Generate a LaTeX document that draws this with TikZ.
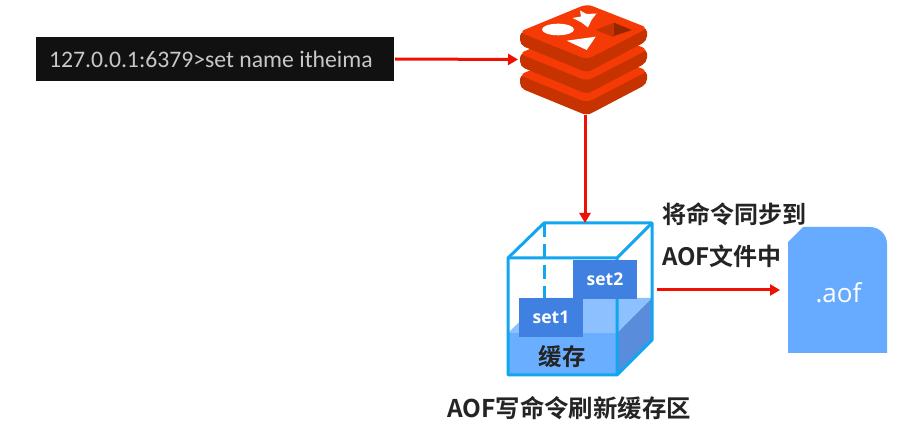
\documentclass[tikz,border=0pt]{standalone}
\usepackage{fontspec}
\setmainfont{Open Sans}
\newfontfamily\cjkbold[Scale=1]{Noto Sans CJK SC Bold}
\newfontfamily\termfont{Carlito}
\usetikzlibrary{arrows.meta}
\definecolor{rtop}{HTML}{F53A05}
\definecolor{rside}{HTML}{C63200}
\definecolor{rdark}{HTML}{962600}
\definecolor{cubeline}{HTML}{12A5F0}
\definecolor{setblue}{HTML}{4080E0}
\definecolor{water}{HTML}{6AAFFF}
\definecolor{watertop}{HTML}{8CC0FF}
\definecolor{waterside}{HTML}{5A8CDC}
\definecolor{aofblue}{HTML}{66ABFF}
\definecolor{ink}{HTML}{242424}
\tikzset{
  link/.style={draw={rgb,255:red,238;green,16;blue,0},line width=3pt,-{Triangle[length=10pt,width=11pt]}},
  box/.style={inner sep=0pt,outer sep=0pt},
  label/.style={inner sep=0pt,outer sep=0pt,anchor=west,text=ink,font=\cjkbold\fontsize{24}{28}\selectfont},
  setbox/.style={box,fill=setblue,text=white,font=\bfseries\fontsize{17.5}{20}\selectfont,minimum width=64pt,minimum height=38.5pt},
}
\newcommand{\redislayer}[1]{%
  \fill[rside,rounded corners=5pt] (520,31+#1) -- (520,45+#1) -- (587,72.5+#1) -- (647,41+#1) -- (647,27+#1) -- (587,50+#1) -- cycle;
  \fill[rtop,rounded corners=6pt] (519,32+#1) -- (587,4+#1) -- (648,28+#1) -- (587,59.5+#1) -- cycle;
}
\begin{document}
\begin{tikzpicture}[x=1pt,y=-1pt]
\useasboundingbox (0,0) rectangle (902,427);
\fill[white] (0,0) rectangle (902,427);
% terminal
\node[box,fill={rgb,255:red,17;green,17;blue,17},minimum width=358pt,minimum height=44pt] (term) at (215,59) {};
\node[box,anchor=west,text={rgb,255:red,200;green,200;blue,200},font=\termfont\fontsize{23.7}{27}\selectfont] (termtext) at (49,59) {127.0.0.1:6379>set name itheima};
% redis logo
\node[box,minimum width=130pt,minimum height=111pt] (redis) at (585,59.5) {};
\redislayer{43}
\redislayer{21.5}
\redislayer{0}
\fill[white] (558,29.5) ellipse (16 and 5.8);
\fill[white] (572.5,18) -- (581,16.5) -- (580,10.5) -- (586.5,14) -- (596.5,13.5) -- (591.5,20) -- (588,27.5) -- (581.5,22.5) -- cycle;
\fill[white] (566.7,40.7) -- (595.7,36.7) -- (586.7,50) -- cycle;
\fill[rside] (595.7,30) -- (614,22.7) -- (614,37.3) -- cycle;
\fill[rdark] (614,22.7) -- (631.7,30) -- (614,36) -- cycle;
% cube
\node[box,minimum width=144pt,minimum height=152pt] (cube) at (580,299) {};
\fill[water] (508,333) rectangle (617,375);
\fill[watertop] (508,333) -- (544,298) -- (652,298) -- (617,333) -- cycle;
\fill[waterside] (617,333) -- (652,298) -- (652,340) -- (617,375) -- cycle;
\draw[cubeline,line width=3pt,dash pattern=on 14pt off 7pt] (544,223) -- (544,298);
\node[setbox] (set1) at (551,317.5) {set1};
\draw[cubeline,line width=3pt,line join=round] (508,258) -- (544,223) -- (652,223) -- (652,340) -- (617,375) -- (508,375) -- cycle;
\draw[cubeline,line width=3pt,line join=round] (508,258) -- (617,258) -- (652,223) (617,258) -- (617,375);
\node[setbox] (set2) at (605,279.5) {set2};
\node[box,text=ink,font=\cjkbold\fontsize{23.5}{27}\selectfont] (cache) at (562,357) {缓存};
% aof file
\node[box,minimum width=99pt,minimum height=126pt] (aof) at (837.5,290) {};
\fill[aofblue] (788,353) -- (788,242) -- (803,227) -- (870,227) arc[start angle=-90,end angle=0,radius=17] -- (887,353) -- cycle;
\node[box,text=white,font=\fontsize{26}{30}\selectfont] (aoftext) at (838.5,293) {.aof};
% labels
\node[label] (l1) at (662,214) {将命令同步到};
\node[label] (l2) at (662,256) {AOF文件中};
\node[box,text=ink,font=\cjkbold\fontsize{24.4}{28}\selectfont] (l3) at (569,408) {AOF写命令刷新缓存区};
% connectors
\draw[link,shorten <=1pt,shorten >=2pt] (term.east) -- (redis.west);
\draw[link] (redis.south) -- (redis.south |- cube.north);
\draw[link,shorten <=5pt,shorten >=8pt] (cube.east |- aof.west) -- (aof.west);
\end{tikzpicture}
\end{document}
